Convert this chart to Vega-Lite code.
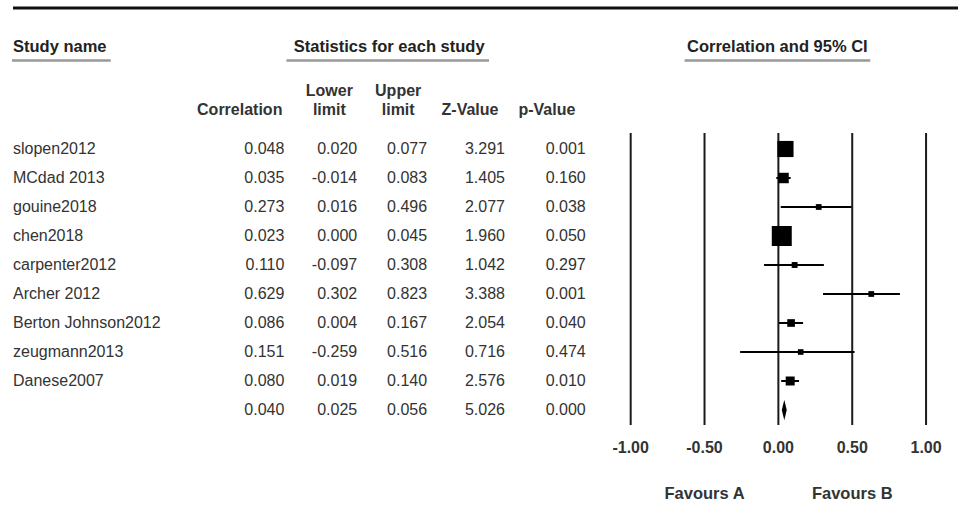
{
  "$schema": "https://vega.github.io/schema/vega-lite/v6.json",
  "width": 960,
  "height": 508,
  "autosize": {"type": "fit", "contains": "padding"},
  "padding": 0,
  "background": "white",
  "config": {
    "view": {"stroke": null},
    "font": "Liberation Sans",
    "text": {"font": "Liberation Sans"},
    "locale": {"number": {"decimal": ".", "thousands": ",", "grouping": [3], "currency": ["$", ""], "minus": "-"}}
  },
  "data": {"values": [{}]},
  "datasets": {
    "studies": [
      {"study": "slopen2012", "corr": 0.048, "lower": 0.020, "upper": 0.077, "z": 3.291, "p": 0.001, "weight": 29.9, "order": 1, "kind": "study"},
      {"study": "MCdad 2013", "corr": 0.035, "lower": -0.014, "upper": 0.083, "z": 1.405, "p": 0.160, "weight": 10.3, "order": 2, "kind": "study"},
      {"study": "gouine2018", "corr": 0.273, "lower": 0.016, "upper": 0.496, "z": 2.077, "p": 0.038, "weight": 0.4, "order": 3, "kind": "study"},
      {"study": "chen2018", "corr": 0.023, "lower": 0.000, "upper": 0.045, "z": 1.960, "p": 0.050, "weight": 47.9, "order": 4, "kind": "study"},
      {"study": "carpenter2012", "corr": 0.110, "lower": -0.097, "upper": 0.308, "z": 1.042, "p": 0.297, "weight": 0.6, "order": 5, "kind": "study"},
      {"study": "Archer 2012", "corr": 0.629, "lower": 0.302, "upper": 0.823, "z": 3.388, "p": 0.001, "weight": 0.4, "order": 6, "kind": "study"},
      {"study": "Berton Johnson2012", "corr": 0.086, "lower": 0.004, "upper": 0.167, "z": 2.054, "p": 0.040, "weight": 3.7, "order": 7, "kind": "study"},
      {"study": "zeugmann2013", "corr": 0.151, "lower": -0.259, "upper": 0.516, "z": 0.716, "p": 0.474, "weight": 0.2, "order": 8, "kind": "study"},
      {"study": "Danese2007", "corr": 0.080, "lower": 0.019, "upper": 0.140, "z": 2.576, "p": 0.010, "weight": 6.6, "order": 9, "kind": "study"},
      {"study": "Combined", "corr": 0.040, "lower": 0.025, "upper": 0.056, "z": 5.026, "p": 0.000, "weight": 100, "order": 10, "kind": "summary"}
    ],
    "ticks": [{"tick": -1}, {"tick": -0.5}, {"tick": 0}, {"tick": 0.5}, {"tick": 1}]
  },
  "layer": [
    {
      "mark": {"type": "rule", "color": "#111", "strokeWidth": 3},
      "encoding": {
        "x": {"datum": -5.1824, "type": "quantitative", "scale": {"domain": [-5.27027, 1.21622], "nice": false, "zero": false}, "axis": null},
        "x2": {"datum": 1.21622},
        "y": {"datum": -3.862, "type": "quantitative", "scale": {"domain": [-4.13793, 13.37931], "reverse": true, "nice": false, "zero": false}, "axis": null}
      }
    },
    {
      "mark": {"type": "rule", "color": "#999", "strokeWidth": 2.5},
      "encoding": {"x": {"datum": -5.1892, "type": "quantitative", "axis": null}, "x2": {"datum": -4.5203}, "y": {"datum": -2.05, "type": "quantitative", "axis": null}}
    },
    {
      "mark": {"type": "rule", "color": "#999", "strokeWidth": 2.5},
      "encoding": {"x": {"datum": -3.3311, "type": "quantitative", "axis": null}, "x2": {"datum": -1.9595}, "y": {"datum": -2.05, "type": "quantitative", "axis": null}}
    },
    {
      "mark": {"type": "rule", "color": "#999", "strokeWidth": 2.5},
      "encoding": {"x": {"datum": -0.635, "type": "quantitative", "axis": null}, "x2": {"datum": 0.622}, "y": {"datum": -2.05, "type": "quantitative", "axis": null}}
    },
    {
      "mark": {"type": "text", "text": "Study name", "align": "left", "baseline": "middle", "fontSize": 16.5, "fontWeight": "bold", "color": "#222"},
      "encoding": {"x": {"datum": -5.1824, "type": "quantitative", "axis": null}, "y": {"datum": -2.52, "type": "quantitative", "axis": null}}
    },
    {
      "mark": {"type": "text", "text": "Statistics for each study", "align": "center", "baseline": "middle", "fontSize": 16.5, "fontWeight": "bold", "color": "#222"},
      "encoding": {"x": {"datum": -2.635, "type": "quantitative", "axis": null}, "y": {"datum": -2.52, "type": "quantitative", "axis": null}}
    },
    {
      "mark": {"type": "text", "text": "Correlation and 95% CI", "align": "center", "baseline": "middle", "fontSize": 16.5, "fontWeight": "bold", "color": "#222"},
      "encoding": {"x": {"datum": -0.007, "type": "quantitative", "axis": null}, "y": {"datum": -2.52, "type": "quantitative", "axis": null}}
    },
    {
      "mark": {"type": "text", "text": "Lower", "align": "center", "baseline": "middle", "fontSize": 16, "fontWeight": "bold", "color": "#333"},
      "encoding": {"x": {"datum": -3.0405, "type": "quantitative", "axis": null}, "y": {"datum": -1.0, "type": "quantitative", "axis": null}}
    },
    {
      "mark": {"type": "text", "text": "Upper", "align": "center", "baseline": "middle", "fontSize": 16, "fontWeight": "bold", "color": "#333"},
      "encoding": {"x": {"datum": -2.5743, "type": "quantitative", "axis": null}, "y": {"datum": -1.0, "type": "quantitative", "axis": null}}
    },
    {
      "mark": {"type": "text", "text": "Correlation", "align": "right", "baseline": "middle", "fontSize": 16, "fontWeight": "bold", "color": "#333"},
      "encoding": {"x": {"datum": -3.3581, "type": "quantitative", "axis": null}, "y": {"datum": -0.345, "type": "quantitative", "axis": null}}
    },
    {
      "mark": {"type": "text", "text": "limit", "align": "center", "baseline": "middle", "fontSize": 16, "fontWeight": "bold", "color": "#333"},
      "encoding": {"x": {"datum": -3.0405, "type": "quantitative", "axis": null}, "y": {"datum": -0.345, "type": "quantitative", "axis": null}}
    },
    {
      "mark": {"type": "text", "text": "limit", "align": "center", "baseline": "middle", "fontSize": 16, "fontWeight": "bold", "color": "#333"},
      "encoding": {"x": {"datum": -2.5743, "type": "quantitative", "axis": null}, "y": {"datum": -0.345, "type": "quantitative", "axis": null}}
    },
    {
      "mark": {"type": "text", "text": "Z-Value", "align": "center", "baseline": "middle", "fontSize": 16, "fontWeight": "bold", "color": "#333"},
      "encoding": {"x": {"datum": -2.0878, "type": "quantitative", "axis": null}, "y": {"datum": -0.345, "type": "quantitative", "axis": null}}
    },
    {
      "mark": {"type": "text", "text": "p-Value", "align": "center", "baseline": "middle", "fontSize": 16, "fontWeight": "bold", "color": "#333"},
      "encoding": {"x": {"datum": -1.5676, "type": "quantitative", "axis": null}, "y": {"datum": -0.345, "type": "quantitative", "axis": null}}
    },
    {
      "data": {"name": "studies"},
      "transform": [{"filter": "datum.kind == 'study'"}],
      "mark": {"type": "text", "align": "left", "baseline": "middle", "fontSize": 16, "color": "#333"},
      "encoding": {"x": {"datum": -5.1824, "type": "quantitative", "axis": null}, "y": {"field": "order", "type": "quantitative", "axis": null}, "text": {"field": "study", "type": "nominal"}}
    },
    {
      "data": {"name": "studies"},
      "mark": {"type": "text", "align": "right", "baseline": "middle", "fontSize": 16, "color": "#333"},
      "encoding": {"x": {"datum": -3.3446, "type": "quantitative", "axis": null}, "y": {"field": "order", "type": "quantitative", "axis": null}, "text": {"field": "corr", "type": "quantitative", "format": ".3f"}}
    },
    {
      "data": {"name": "studies"},
      "mark": {"type": "text", "align": "right", "baseline": "middle", "fontSize": 16, "color": "#333"},
      "encoding": {"x": {"datum": -2.8514, "type": "quantitative", "axis": null}, "y": {"field": "order", "type": "quantitative", "axis": null}, "text": {"field": "lower", "type": "quantitative", "format": ".3f"}}
    },
    {
      "data": {"name": "studies"},
      "mark": {"type": "text", "align": "right", "baseline": "middle", "fontSize": 16, "color": "#333"},
      "encoding": {"x": {"datum": -2.3784, "type": "quantitative", "axis": null}, "y": {"field": "order", "type": "quantitative", "axis": null}, "text": {"field": "upper", "type": "quantitative", "format": ".3f"}}
    },
    {
      "data": {"name": "studies"},
      "mark": {"type": "text", "align": "right", "baseline": "middle", "fontSize": 16, "color": "#333"},
      "encoding": {"x": {"datum": -1.8514, "type": "quantitative", "axis": null}, "y": {"field": "order", "type": "quantitative", "axis": null}, "text": {"field": "z", "type": "quantitative", "format": ".3f"}}
    },
    {
      "data": {"name": "studies"},
      "mark": {"type": "text", "align": "right", "baseline": "middle", "fontSize": 16, "color": "#333"},
      "encoding": {"x": {"datum": -1.3041, "type": "quantitative", "axis": null}, "y": {"field": "order", "type": "quantitative", "axis": null}, "text": {"field": "p", "type": "quantitative", "format": ".3f"}}
    },
    {
      "data": {"name": "ticks"},
      "mark": {"type": "rule", "color": "#1a1a1a", "strokeWidth": 2},
      "encoding": {"x": {"field": "tick", "type": "quantitative", "axis": null}, "y": {"datum": 0.448, "type": "quantitative", "axis": null}, "y2": {"datum": 10.517}}
    },
    {
      "data": {"name": "studies"},
      "transform": [{"filter": "datum.kind == 'study'"}],
      "mark": {"type": "rule", "color": "#000", "strokeWidth": 2},
      "encoding": {"x": {"field": "lower", "type": "quantitative", "axis": null}, "x2": {"field": "upper"}, "y": {"field": "order", "type": "quantitative", "axis": null}}
    },
    {
      "data": {"name": "studies"},
      "transform": [{"filter": "datum.kind == 'study'"}],
      "mark": {"type": "point", "shape": "square", "filled": true, "color": "#000", "opacity": 1, "strokeWidth": 0},
      "encoding": {
        "x": {"field": "corr", "type": "quantitative", "axis": null},
        "y": {"field": "order", "type": "quantitative", "axis": null},
        "size": {"field": "weight", "type": "quantitative", "scale": {"domain": [0, 48], "range": [30, 400]}, "legend": null}
      }
    },
    {
      "data": {"name": "studies"},
      "transform": [{"filter": "datum.kind == 'summary'"}],
      "mark": {"type": "point", "shape": "M0,-1L0.24,0L0,1L-0.24,0Z", "filled": true, "color": "#000", "opacity": 1, "size": 420, "strokeWidth": 0},
      "encoding": {"x": {"field": "corr", "type": "quantitative", "axis": null}, "y": {"field": "order", "type": "quantitative", "axis": null}}
    },
    {
      "data": {"name": "ticks"},
      "mark": {"type": "text", "align": "center", "baseline": "middle", "fontSize": 16, "fontWeight": "bold", "color": "#333"},
      "encoding": {"x": {"field": "tick", "type": "quantitative", "axis": null}, "y": {"datum": 11.31, "type": "quantitative", "axis": null}, "text": {"field": "tick", "type": "quantitative", "format": ".2f"}}
    },
    {
      "mark": {"type": "text", "text": "Favours A", "align": "center", "baseline": "middle", "fontSize": 16.5, "fontWeight": "bold", "color": "#333"},
      "encoding": {"x": {"datum": -0.5, "type": "quantitative", "axis": null}, "y": {"datum": 12.9, "type": "quantitative", "axis": null}}
    },
    {
      "mark": {"type": "text", "text": "Favours B", "align": "center", "baseline": "middle", "fontSize": 16.5, "fontWeight": "bold", "color": "#333"},
      "encoding": {"x": {"datum": 0.5, "type": "quantitative", "axis": null}, "y": {"datum": 12.9, "type": "quantitative", "axis": null}}
    }
  ]
}
